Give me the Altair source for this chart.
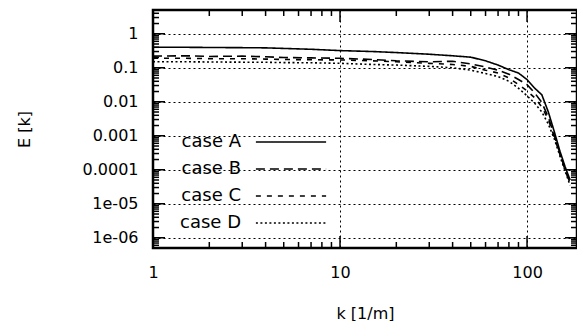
import math
import altair as alt
import pandas as pd

K = [1, 1.5, 2, 3, 4, 5, 7, 10, 15, 20, 30, 40, 50, 60, 70, 80, 90, 100,
     110, 120, 130, 140, 150, 160, 170]
CASES = ["case A", "case B", "case C", "case D"]
CASE_A = [0.40, 0.40, 0.395, 0.39, 0.385, 0.37, 0.35, 0.32, 0.30, 0.28, 0.25, 0.225,
          0.205, 0.16, 0.12, 0.088, 0.07, 0.045, 0.025, 0.016, 0.005, 0.0013,
          0.00035, 0.00012, 0.00005]
CASE_B = [0.22, 0.225, 0.215, 0.22, 0.21, 0.20, 0.195, 0.19, 0.175, 0.16, 0.15, 0.155,
          0.13, 0.105, 0.085, 0.065, 0.045, 0.032, 0.018, 0.0095, 0.0035, 0.001,
          0.0003, 0.0001, 0.00004]
CASE_C = [0.19, 0.19, 0.185, 0.185, 0.18, 0.175, 0.172, 0.17, 0.16, 0.15, 0.135, 0.125,
          0.11, 0.085, 0.07, 0.05, 0.032, 0.021, 0.013, 0.007, 0.003, 0.0009,
          0.00028, 0.0001, 0.00004]
CASE_D = [0.15, 0.15, 0.148, 0.146, 0.145, 0.142, 0.14, 0.135, 0.125, 0.12, 0.11, 0.10,
          0.085, 0.068, 0.055, 0.04, 0.025, 0.015, 0.009, 0.005, 0.0022, 0.0008,
          0.00025, 0.00009, 0.000035]
X_MAJOR = [1, 10, 100]
X_LABELS = ["1", "10", "100"]
X_MINOR = [2, 3, 4, 5, 6, 7, 8, 9, 20, 30, 40, 50, 60, 70, 80, 90]
Y_MAJOR = [1e-6, 1e-5, 1e-4, 1e-3, 1e-2, 1e-1, 1]
Y_LABELS = ["1e-06", "1e-05", "0.0001", "0.001", "0.01", "0.1", "1"]
Y_MINOR = [5e-7, 6e-7, 7e-7, 8e-7, 9e-7] + \
          [m * v for v in Y_MAJOR[:-1] for m in range(2, 10)] + [2, 3, 4, 5]

rows = []
for name, vals in zip(CASES, [CASE_A, CASE_B, CASE_C, CASE_D]):
    for k, e in zip(K, vals):
        rows.append({"k": k, "E": e, "case": name})
df = pd.DataFrame(rows)

W, H = 424, 238
LOG = "round(log(datum.value)/LN10)"


def label_expr(values, labels):
    expr = "''"
    for v, lab in zip(values, labels):
        d = round(math.log10(v))
        expr = f"({LOG} == {d}) ? '{lab}' : {expr}"
    return expr


x_scale = alt.Scale(type="log", domain=[1, 185])
y_scale = alt.Scale(type="log", domain=[5e-7, 5])
dash_scale = alt.Scale(domain=CASES, range=[[1, 0], [9, 5], [5, 6], [2, 2.5]])

MAJ, MIN = 12, 6
text = dict(grid=True, gridColor="black", gridDash=[2, 3], gridWidth=1,
            labelFontSize=16, labelColor="black", titleFontSize=16,
            titleFontWeight="normal", titleColor="black", labelOverlap=False,
            labelFlush=False, ticks=False, tickSize=0, domain=False)

x_bottom = alt.Axis(values=X_MAJOR, labelExpr=label_expr(X_MAJOR, X_LABELS),
                    labelPadding=16, title="k [1/m]", titlePadding=25, **text)
y_left = alt.Axis(values=Y_MAJOR, labelExpr=label_expr(Y_MAJOR, Y_LABELS),
                  labelPadding=15, title="E [k]", titlePadding=50, **text)

lines = alt.Chart(df).mark_line(color="black", strokeWidth=1.6, clip=True).encode(
    x=alt.X("k:Q", scale=x_scale, axis=x_bottom),
    y=alt.Y("E:Q", scale=y_scale, axis=y_left),
    strokeDash=alt.StrokeDash(
        "case:N", scale=dash_scale,
        legend=alt.Legend(title=None, orient="none", legendX=87, legendY=118,
                          symbolType="M-2.7,0L2.7,0", symbolSize=676, symbolStrokeWidth=1.5,
                          symbolStrokeColor="black", symbolFillColor="transparent",
                          labelFontSize=18, labelColor="black",
                          labelAlign="right", labelOffset={"expr": "-64"}, symbolOffset=37,
                          rowPadding=4)),
)


def x_ticks(values, size, top):
    d = pd.DataFrame({"v": values})
    y0, y1 = (0, size) if top else (H, H - size)
    return alt.Chart(d).mark_rule(color="black", strokeWidth=1.5).encode(
        x=alt.X("v:Q", scale=x_scale, axis=None),
        y=alt.value(y0), y2=alt.value(y1))


def y_ticks(values, size, right):
    d = pd.DataFrame({"v": values})
    x0, x1 = (W, W - size) if right else (0, size)
    return alt.Chart(d).mark_rule(color="black", strokeWidth=1.5).encode(
        y=alt.Y("v:Q", scale=y_scale, axis=None),
        x=alt.value(x0), x2=alt.value(x1))


tick_layers = [
    x_ticks(X_MAJOR, MAJ, False), x_ticks(X_MINOR, MIN, False),
    x_ticks(X_MAJOR, MAJ, True), x_ticks(X_MINOR, MIN, True),
    y_ticks(Y_MAJOR, MAJ, False), y_ticks(Y_MINOR, MIN, False),
    y_ticks(Y_MAJOR, MAJ, True), y_ticks(Y_MINOR, MIN, True),
]

chart = alt.layer(lines, *tick_layers).resolve_axis(
    x="independent", y="independent"
).properties(
    width=W, height=H,
    autosize=alt.AutoSizeParams(type="none"),
    padding={"left": 145, "top": 2, "right": 0, "bottom": 73},
).configure(font="DejaVu Sans").configure_view(stroke="black", strokeWidth=2.5)

chart.save("out.html", embed_options={"renderer": "svg", "actions": False})
